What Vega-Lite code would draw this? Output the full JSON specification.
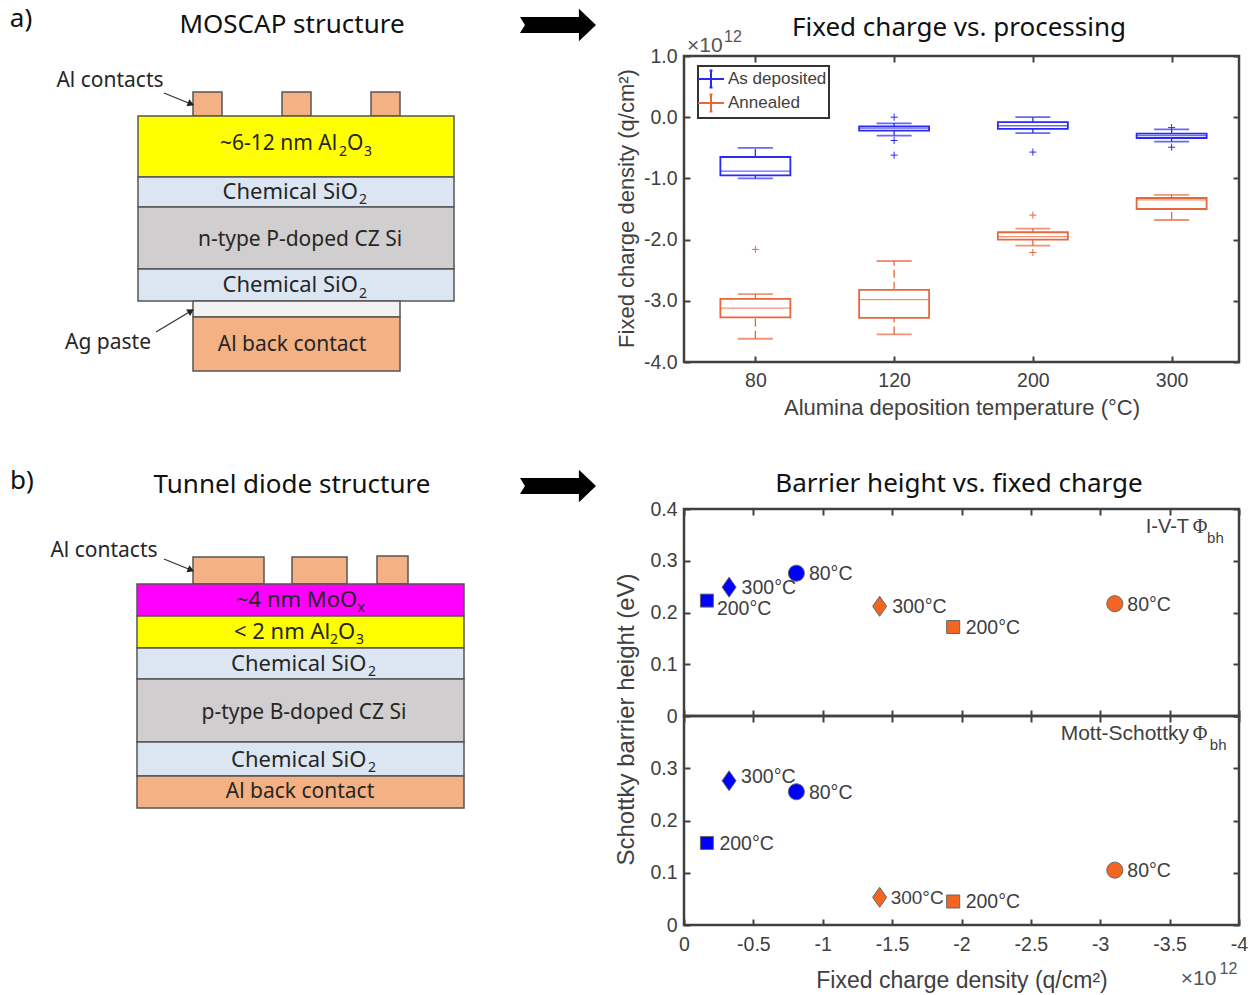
{
"$schema":"https://vega.github.io/schema/vega-lite/v6.json",
"padding":0,
"background":"white",
"bounds":"flush",
"spacing":0,
"resolve":{"scale":{"fill":"independent"}},
"config":{
 "view":{"stroke":"#404040","strokeWidth":2.5},
 "axis":{"grid":false,"domain":false,"labelFlush":false,"labelOverlap":false,"labelFont":"Liberation Sans","titleFont":"Liberation Sans","labelFontSize":19.5,"titleFontSize":22,"titleFontWeight":"normal","labelColor":"#404040","titleColor":"#404040","tickColor":"#404040","tickWidth":2},
 "text":{"font":"Liberation Sans","color":"#404040","fontSize":19.5}
},
"datasets":{
 "layers":[
  {"part":"Al","x":193,"x2":222,"y":92,"y2":116},
  {"part":"Al","x":282,"x2":311,"y":92,"y2":116},
  {"part":"Al","x":371,"x2":400,"y":92,"y2":116},
  {"part":"Al2O3","x":138,"x2":454,"y":116,"y2":177},
  {"part":"SiO2","x":138,"x2":454,"y":177,"y2":207},
  {"part":"Si","x":138,"x2":454,"y":207,"y2":269},
  {"part":"SiO2","x":138,"x2":454,"y":269,"y2":301},
  {"part":"Ag","x":193,"x2":400,"y":301,"y2":317},
  {"part":"Al","x":193,"x2":400,"y":317,"y2":371},
  {"part":"Al","x":193,"x2":264,"y":557,"y2":584},
  {"part":"Al","x":292,"x2":347,"y":557,"y2":584},
  {"part":"Al","x":377,"x2":408,"y":556,"y2":584},
  {"part":"MoOx","x":137,"x2":464,"y":584,"y2":616},
  {"part":"Al2O3","x":137,"x2":464,"y":616,"y2":648},
  {"part":"SiO2","x":137,"x2":464,"y":648,"y2":679},
  {"part":"Si","x":137,"x2":464,"y":679,"y2":742},
  {"part":"SiO2","x":137,"x2":464,"y":742,"y2":776},
  {"part":"Al","x":137,"x2":464,"y":776,"y2":808}
 ],
 "notes":[
  {"t":"Al contacts","x":110,"y":81},
  {"t":"n-type P-doped CZ Si","x":300,"y":240},
  {"t":"Ag paste","x":108,"y":343},
  {"t":"Al back contact","x":292,"y":345},
  {"t":"Al contacts","x":104,"y":551},
  {"t":"p-type B-doped CZ Si","x":304,"y":713},
  {"t":"Al back contact","x":300,"y":792}
 ],
 "formula":[
  {"t":"Chemical SiO","x":222.5,"y":192},
  {"t":"Chemical SiO","x":222.5,"y":285},
  {"t":"~4 nm MoO","x":236,"y":600},
  {"t":"< 2 nm Al","x":234,"y":632},
  {"t":"O","x":338,"y":632},
  {"t":"Chemical SiO","x":231,"y":664},
  {"t":"Chemical SiO","x":231,"y":760}
 ],
 "formula2":[
  {"t":"~6-12 nm Al","x":220,"y":144},
  {"t":"O","x":347,"y":144}
 ],
 "subs":[
  {"t":"2","x":339,"y":152},
  {"t":"3","x":364,"y":152},
  {"t":"2","x":359,"y":200},
  {"t":"2","x":359,"y":294},
  {"t":"x","x":357.5,"y":608},
  {"t":"2","x":330,"y":640},
  {"t":"3","x":356,"y":640},
  {"t":"2","x":368,"y":672},
  {"t":"2","x":368,"y":768}
 ],
 "heads":[
  {"t":"MOSCAP structure","x":292,"y":25},
  {"t":"Tunnel diode structure","x":292,"y":485}
 ],
 "tags":[
  {"t":"a)","x":21,"y":19},
  {"t":"b)","x":22,"y":481}
 ],
 "pointers":[
  {"x":164,"y":93,"x2":191,"y2":104,"a":22},
  {"x":156,"y":332,"x2":191,"y2":311,"a":-31},
  {"x":164,"y":559,"x2":191,"y2":570,"a":22}
 ],
 "big":[{"x":558,"y":25},{"x":558,"y":486}],
 "box":[
  {"temp":"80","series":"As deposited","lo":-1.0,"q1":-0.95,"med":-0.88,"q3":-0.65,"hi":-0.5},
  {"temp":"120","series":"As deposited","lo":-0.3,"q1":-0.22,"med":-0.18,"q3":-0.15,"hi":-0.1},
  {"temp":"200","series":"As deposited","lo":-0.26,"q1":-0.19,"med":-0.14,"q3":-0.08,"hi":0.0},
  {"temp":"300","series":"As deposited","lo":-0.4,"q1":-0.34,"med":-0.3,"q3":-0.27,"hi":-0.2},
  {"temp":"80","series":"Annealed","lo":-3.62,"q1":-3.27,"med":-3.12,"q3":-2.97,"hi":-2.89},
  {"temp":"120","series":"Annealed","lo":-3.55,"q1":-3.28,"med":-2.98,"q3":-2.82,"hi":-2.35},
  {"temp":"200","series":"Annealed","lo":-2.1,"q1":-2.0,"med":-1.95,"q3":-1.88,"hi":-1.82},
  {"temp":"300","series":"Annealed","lo":-1.68,"q1":-1.5,"med":-1.35,"q3":-1.32,"hi":-1.27}
 ],
 "outliers":[
  {"temp":"120","series":"As deposited","v":0.0},
  {"temp":"120","series":"As deposited","v":-0.38},
  {"temp":"120","series":"As deposited","v":-0.62},
  {"temp":"200","series":"As deposited","v":-0.57},
  {"temp":"300","series":"As deposited","v":-0.17},
  {"temp":"300","series":"As deposited","v":-0.49},
  {"temp":"80","series":"Annealed","v":-2.16},
  {"temp":"200","series":"Annealed","v":-1.6},
  {"temp":"200","series":"Annealed","v":-2.21}
 ],
 "ivt":[
  {"series":"As deposited","temp":"80","q":-0.81,"b":0.276,"label":"80°C"},
  {"series":"As deposited","temp":"200","q":-0.165,"b":0.223,"label":"200°C"},
  {"series":"As deposited","temp":"300","q":-0.325,"b":0.249,"label":"300°C"},
  {"series":"Annealed","temp":"80","q":-3.105,"b":0.217,"label":"80°C"},
  {"series":"Annealed","temp":"200","q":-1.94,"b":0.172,"label":"200°C"},
  {"series":"Annealed","temp":"300","q":-1.41,"b":0.212,"label":"300°C"}
 ],
 "ms":[
  {"series":"As deposited","temp":"80","q":-0.81,"b":0.255,"label":"80°C"},
  {"series":"As deposited","temp":"200","q":-0.165,"b":0.157,"label":"200°C"},
  {"series":"As deposited","temp":"300","q":-0.325,"b":0.276,"label":"300°C"},
  {"series":"Annealed","temp":"80","q":-3.105,"b":0.105,"label":"80°C"},
  {"series":"Annealed","temp":"200","q":-1.94,"b":0.045,"label":"200°C"},
  {"series":"Annealed","temp":"300","q":-1.41,"b":0.053,"label":"300°C"}
 ]
},
"hconcat":[
 {
  "width":684,"height":995,
  "view":{"stroke":null,"fill":"white"},
  "encoding":{
   "x":{"field":"x","type":"quantitative","scale":{"domain":[0,684],"nice":false,"zero":false},"axis":null},
   "y":{"field":"y","type":"quantitative","scale":{"domain":[995,0],"nice":false,"zero":false},"axis":null}
  },
  "layer":[
   {"data":{"name":"layers"},"mark":{"type":"rect","stroke":"#555555","strokeWidth":1.5},
    "encoding":{"x2":{"field":"x2"},"y2":{"field":"y2"},
     "fill":{"field":"part","type":"nominal","legend":null,"scale":{"domain":["Al","Al2O3","SiO2","Si","Ag","MoOx"],"range":["#f4b183","#ffff00","#dce6f2","#d0cece","#f2f2f2","#ff00ff"]}}}},
   {"data":{"name":"notes"},"mark":{"type":"text","font":"Noto Sans","fontSize":21,"color":"#262626"},"encoding":{"text":{"field":"t"}}},
   {"data":{"name":"formula"},"mark":{"type":"text","align":"left","font":"Noto Sans","fontSize":22,"color":"#262626"},"encoding":{"text":{"field":"t"}}},
   {"data":{"name":"formula2"},"mark":{"type":"text","align":"left","font":"Noto Sans","fontSize":21,"color":"#262626"},"encoding":{"text":{"field":"t"}}},
   {"data":{"name":"subs"},"mark":{"type":"text","align":"left","font":"Noto Sans","fontSize":14,"color":"#262626"},"encoding":{"text":{"field":"t"}}},
   {"data":{"name":"heads"},"mark":{"type":"text","font":"Noto Sans","fontSize":26,"color":"#111111"},"encoding":{"text":{"field":"t"}}},
   {"data":{"name":"tags"},"mark":{"type":"text","font":"Noto Sans","fontSize":26,"color":"#111111"},"encoding":{"text":{"field":"t"}}},
   {"data":{"name":"pointers"},"mark":{"type":"rule","color":"#333333","strokeWidth":1.3},"encoding":{"x2":{"field":"x2"},"y2":{"field":"y2"}}},
   {"data":{"name":"pointers"},"mark":{"type":"point","shape":"triangle-right","filled":true,"color":"#222222","opacity":1,"size":60},
    "encoding":{"x":{"field":"x2","type":"quantitative"},"y":{"field":"y2","type":"quantitative"},"angle":{"field":"a","type":"quantitative","scale":null}}},
   {"data":{"name":"big"},"mark":{"type":"point","filled":true,"color":"black","opacity":1,"size":5776,"shape":"M-1,-0.21 L0.55,-0.21 L0.55,-0.43 L1,0 L0.55,0.43 L0.55,0.21 L-1,0.21 L-0.87,0 Z"}}
  ]
 },
 {
  "bounds":"flush","spacing":0,
  "vconcat":[
   {
    "width":555,"height":56,"view":{"stroke":null},
    "data":{"values":[{"t":"Fixed charge vs. processing","x":275,"y":28}]},
    "layer":[
     {"mark":{"type":"text","font":"Noto Sans","fontSize":26,"color":"#111111"},
      "encoding":{"x":{"field":"x","type":"quantitative","scale":{"domain":[0,555],"nice":false},"axis":null},"y":{"field":"y","type":"quantitative","scale":{"domain":[56,0],"nice":false},"axis":null},"text":{"field":"t"}}},
     {"data":{"values":[{"t":"×10","x":3,"y":46}]},"mark":{"type":"text","align":"left","fontSize":21,"color":"#555555"},
      "encoding":{"x":{"field":"x","type":"quantitative","axis":null},"y":{"field":"y","type":"quantitative","axis":null},"text":{"field":"t"}}},
     {"data":{"values":[{"t":"12","x":40,"y":37}]},"mark":{"type":"text","align":"left","fontSize":16,"color":"#555555"},
      "encoding":{"x":{"field":"x","type":"quantitative","axis":null},"y":{"field":"y","type":"quantitative","axis":null},"text":{"field":"t"}}}
    ]
   },
   {
    "width":555,"height":306,
    "resolve":{"axis":{"x":"independent","y":"independent"}},
    "data":{"name":"box"},
    "layer":[
     {"mark":{"type":"rule","strokeDash":[8,4],"strokeWidth":1.3,"xOffset":2},
      "encoding":{
       "x":{"field":"temp","type":"nominal","scale":{"type":"band","domain":["80","120","200","300"],"paddingInner":0,"paddingOuter":0},
        "axis":{"title":"Alumina deposition temperature (°C)","labelAngle":0,"tickSize":-6,"labelPadding":15,"titlePadding":8,"tickBand":"center","tickOffset":2}},
       "y":{"field":"lo","type":"quantitative","scale":{"domain":[-4,1],"nice":false},
        "axis":{"title":"Fixed charge density (q/cm²)","values":[-4,-3,-2,-1,0,1],"tickSize":-6,"labelPadding":13,"labelExpr":"replace(format(datum.value,'.1f'),'−','-')","titleX":-46,"titleY":152}},
       "y2":{"field":"q1"},
       "color":{"field":"series","type":"nominal","scale":{"domain":["As deposited","Annealed"],"range":["#2a2af5","#e8673a"]},
        "legend":{"orient":"none","legendX":698,"legendY":66,"title":null,"strokeColor":"#333333","fillColor":"white","padding":2,"labelFont":"Liberation Sans","labelFontSize":17,"labelColor":"#404040","symbolType":"M-1.3,0 L1.3,0 M0,-0.85 L0,0.85 M-0.15,-0.85 L0.15,-0.85 M-0.15,0.85 L0.15,0.85","symbolSize":400,"symbolStrokeWidth":2,"labelOffset":6,"rowPadding":-6,"encode":{"legend":{"update":{"strokeWidth":{"value":2}}}}}}}},
     {"mark":{"type":"rule","strokeDash":[8,4],"strokeWidth":1.3,"xOffset":2},
      "encoding":{"x":{"field":"temp","type":"nominal","axis":null},"y":{"field":"q3","type":"quantitative","axis":null},"y2":{"field":"hi"},"color":{"field":"series","type":"nominal"}}},
     {"mark":{"type":"tick","size":35,"thickness":1.8,"xOffset":2},
      "encoding":{"x":{"field":"temp","type":"nominal","axis":null},"y":{"field":"lo","type":"quantitative","axis":null},"color":{"field":"series","type":"nominal"}}},
     {"mark":{"type":"tick","size":35,"thickness":1.8,"xOffset":2},
      "encoding":{"x":{"field":"temp","type":"nominal","axis":null},"y":{"field":"hi","type":"quantitative","axis":null},"color":{"field":"series","type":"nominal"}}},
     {"mark":{"type":"bar","size":70,"filled":false,"strokeWidth":1.8,"xOffset":2},
      "encoding":{"x":{"field":"temp","type":"nominal","axis":null},"y":{"field":"q1","type":"quantitative","axis":null},"y2":{"field":"q3"},"color":{"field":"series","type":"nominal"}}},
     {"mark":{"type":"tick","size":70,"thickness":1.3,"xOffset":2},
      "encoding":{"x":{"field":"temp","type":"nominal","axis":null},"y":{"field":"med","type":"quantitative","axis":null},"color":{"field":"series","type":"nominal"}}},
     {"data":{"name":"outliers"},"mark":{"type":"point","filled":false,"size":50,"strokeWidth":1,"opacity":1,"xOffset":2,"shape":"M-1,0 L1,0 M0,-1 L0,1"},
      "encoding":{"x":{"field":"temp","type":"nominal","axis":null},"y":{"field":"v","type":"quantitative","axis":null},"color":{"field":"series","type":"nominal"}}},
     {"mark":{"type":"tick","opacity":0},
      "encoding":{
       "x":{"field":"temp","type":"nominal","axis":{"orient":"top","title":null,"labels":false,"tickSize":-6,"tickBand":"center","tickOffset":2}},
       "y":{"field":"lo","type":"quantitative","axis":{"orient":"right","title":null,"labels":false,"tickSize":-6,"values":[-4,-3,-2,-1,0,1]}}}}
    ]
   },
   {
    "width":555,"height":147,"view":{"stroke":null},
    "data":{"values":[{"t":"Barrier height vs. fixed charge","x":275,"y":122}]},
    "mark":{"type":"text","font":"Noto Sans","fontSize":26,"color":"#111111"},
    "encoding":{"x":{"field":"x","type":"quantitative","scale":{"domain":[0,555],"nice":false},"axis":null},"y":{"field":"y","type":"quantitative","scale":{"domain":[147,0],"nice":false},"axis":null},"text":{"field":"t"}}
   },
   {
    "width":555,"height":207,
    "resolve":{"axis":{"x":"independent","y":"independent"}},
    "data":{"name":"ivt"},
    "layer":[
     {"mark":{"type":"point","filled":true,"opacity":1,"size":400,"stroke":"#666666","strokeWidth":1},
      "encoding":{
       "x":{"field":"q","type":"quantitative","scale":{"domain":[0,-4],"nice":false,"zero":false},"axis":{"title":null,"labels":false,"tickSize":-6,"values":[0,-0.5,-1,-1.5,-2,-2.5,-3,-3.5,-4]}},
       "y":{"field":"b","type":"quantitative","scale":{"domain":[0,0.4],"nice":false},"axis":{"title":"Schottky barrier height (eV)","titleFontSize":24,"values":[0,0.1,0.2,0.3,0.4],"tickSize":-6,"labelPadding":13,"titleX":-46,"titleY":210,"labelExpr":"format(datum.value,'~g')"}},
       "fill":{"field":"series","type":"nominal","legend":null,"scale":{"domain":["As deposited","Annealed"],"range":["#0000ff","#f26522"]}},
       "shape":{"field":"temp","type":"nominal","legend":null,"scale":{"domain":["80","200","300"],"range":["M-0.8,0 A0.8,0.8 0 1,1 0.8,0 A0.8,0.8 0 1,1 -0.8,0 Z","M-0.65,-0.65 L0.65,-0.65 L0.65,0.65 L-0.65,0.65 Z","M0,-1 L0.7,0 L0,1 L-0.7,0 Z"]}}}},
     {"transform":[{"filter":"!(datum.series=='As deposited' && datum.temp=='200')"}],
      "mark":{"type":"text","align":"left","dx":12.5,"dy":1},
      "encoding":{"x":{"field":"q","type":"quantitative","axis":null},"y":{"field":"b","type":"quantitative","axis":null},"text":{"field":"label"}}},
     {"transform":[{"filter":"datum.series=='As deposited' && datum.temp=='200'"}],
      "mark":{"type":"text","align":"left","dx":10,"dy":8},
      "encoding":{"x":{"field":"q","type":"quantitative","axis":null},"y":{"field":"b","type":"quantitative","axis":null},"text":{"field":"label"}}},
     {"data":{"values":[{"t":"I-V-T","q":-3.64,"b":0.365}]},"mark":{"type":"text","align":"right","fontSize":20},
      "encoding":{"x":{"field":"q","type":"quantitative","axis":null},"y":{"field":"b","type":"quantitative","axis":null},"text":{"field":"t"}}},
     {"data":{"values":[{"t":"Φ","q":-3.72,"b":0.365}]},"mark":{"type":"text","font":"Liberation Serif","fontSize":20},
      "encoding":{"x":{"field":"q","type":"quantitative","axis":null},"y":{"field":"b","type":"quantitative","axis":null},"text":{"field":"t"}}},
     {"data":{"values":[{"t":"bh","q":-3.77,"b":0.344}]},"mark":{"type":"text","align":"left","fontSize":15},
      "encoding":{"x":{"field":"q","type":"quantitative","axis":null},"y":{"field":"b","type":"quantitative","axis":null},"text":{"field":"t"}}},
     {"mark":{"type":"point","opacity":0},
      "encoding":{
       "x":{"field":"q","type":"quantitative","axis":{"orient":"top","title":null,"labels":false,"tickSize":-6,"values":[0,-0.5,-1,-1.5,-2,-2.5,-3,-3.5,-4]}},
       "y":{"field":"b","type":"quantitative","axis":{"orient":"right","title":null,"labels":false,"tickSize":-6,"values":[0,0.1,0.2,0.3,0.4]}}}}
    ]
   },
   {
    "width":555,"height":209,
    "resolve":{"axis":{"x":"independent","y":"independent"}},
    "data":{"name":"ms"},
    "layer":[
     {"mark":{"type":"point","filled":true,"opacity":1,"size":400,"stroke":"#666666","strokeWidth":1},
      "encoding":{
       "x":{"field":"q","type":"quantitative","scale":{"domain":[0,-4],"nice":false,"zero":false},"axis":{"title":"Fixed charge density (q/cm²)","titleFontSize":23,"tickSize":-6,"labelPadding":16,"titlePadding":16,"values":[0,-0.5,-1,-1.5,-2,-2.5,-3,-3.5,-4],"labelExpr":"replace(format(datum.value,'~g'),'−','-')"}},
       "y":{"field":"b","type":"quantitative","scale":{"domain":[0,0.4],"nice":false},"axis":{"title":null,"values":[0,0.1,0.2,0.3],"tickSize":-6,"labelPadding":13,"labelExpr":"format(datum.value,'~g')"}},
       "fill":{"field":"series","type":"nominal","legend":null,"scale":{"domain":["As deposited","Annealed"],"range":["#0000ff","#f26522"]}},
       "shape":{"field":"temp","type":"nominal","legend":null,"scale":{"domain":["80","200","300"],"range":["M-0.8,0 A0.8,0.8 0 1,1 0.8,0 A0.8,0.8 0 1,1 -0.8,0 Z","M-0.65,-0.65 L0.65,-0.65 L0.65,0.65 L-0.65,0.65 Z","M0,-1 L0.7,0 L0,1 L-0.7,0 Z"]}}}},
     {"transform":[{"filter":"!(datum.series=='As deposited' && datum.temp=='300') && !(datum.series=='Annealed' && datum.temp=='300')"}],
      "mark":{"type":"text","align":"left","dx":12.5,"dy":1},
      "encoding":{"x":{"field":"q","type":"quantitative","axis":null},"y":{"field":"b","type":"quantitative","axis":null},"text":{"field":"label"}}},
     {"transform":[{"filter":"datum.series=='Annealed' && datum.temp=='300'"}],
      "mark":{"type":"text","align":"left","dx":11,"dy":1,"fontSize":19},
      "encoding":{"x":{"field":"q","type":"quantitative","axis":null},"y":{"field":"b","type":"quantitative","axis":null},"text":{"field":"label"}}},
     {"transform":[{"filter":"datum.series=='As deposited' && datum.temp=='300'"}],
      "mark":{"type":"text","align":"left","dx":12,"dy":-4},
      "encoding":{"x":{"field":"q","type":"quantitative","axis":null},"y":{"field":"b","type":"quantitative","axis":null},"text":{"field":"label"}}},
     {"data":{"values":[{"t":"Mott-Schottky","q":-3.64,"b":0.365}]},"mark":{"type":"text","align":"right","fontSize":21},
      "encoding":{"x":{"field":"q","type":"quantitative","axis":null},"y":{"field":"b","type":"quantitative","axis":null},"text":{"field":"t"}}},
     {"data":{"values":[{"t":"Φ","q":-3.72,"b":0.365}]},"mark":{"type":"text","font":"Liberation Serif","fontSize":20},
      "encoding":{"x":{"field":"q","type":"quantitative","axis":null},"y":{"field":"b","type":"quantitative","axis":null},"text":{"field":"t"}}},
     {"data":{"values":[{"t":"bh","q":-3.79,"b":0.345}]},"mark":{"type":"text","align":"left","fontSize":15},
      "encoding":{"x":{"field":"q","type":"quantitative","axis":null},"y":{"field":"b","type":"quantitative","axis":null},"text":{"field":"t"}}},
     {"data":{"values":[{"t":"×10","q":-3.58,"b":-0.103}]},"mark":{"type":"text","align":"left","fontSize":21,"color":"#555555"},
      "encoding":{"x":{"field":"q","type":"quantitative","axis":null},"y":{"field":"b","type":"quantitative","axis":null},"text":{"field":"t"}}},
     {"data":{"values":[{"t":"12","q":-3.86,"b":-0.085}]},"mark":{"type":"text","align":"left","fontSize":16,"color":"#555555"},
      "encoding":{"x":{"field":"q","type":"quantitative","axis":null},"y":{"field":"b","type":"quantitative","axis":null},"text":{"field":"t"}}},
     {"mark":{"type":"point","opacity":0},
      "encoding":{
       "x":{"field":"q","type":"quantitative","axis":{"orient":"top","title":null,"labels":false,"tickSize":-6,"values":[0,-0.5,-1,-1.5,-2,-2.5,-3,-3.5,-4]}},
       "y":{"field":"b","type":"quantitative","axis":{"orient":"right","title":null,"labels":false,"tickSize":-6,"values":[0,0.1,0.2,0.3,0.4]}}}}
    ]
   }
  ]
 }
]
}
